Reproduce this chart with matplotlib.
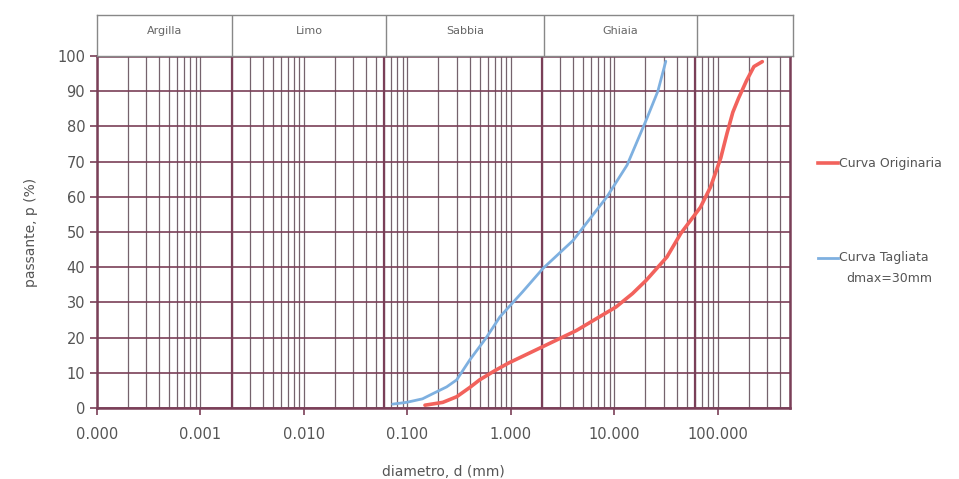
"""
Curva granulometrica: originaria vs tagliata (dmax = 30 mm).
"""
import numpy as np
import matplotlib
matplotlib.use("Agg")
import matplotlib.pyplot as plt
from matplotlib.lines import Line2D

# data
orig_d = [0.148, 0.22, 0.30, 0.40, 0.50, 0.70, 0.94, 1.9, 4.3, 10.4, 15, 20.4, 32.3,
          44, 68, 85, 107, 123, 140, 159, 190, 224, 270]
orig_p = [0.8, 1.6, 3.2, 5.8, 8, 10.6, 12.7, 17, 22, 28.7, 32.5, 36.3, 42.9,
          49.6, 57, 62.7, 71, 78, 84, 88, 93, 97, 98.4]

cut_d = [0.072, 0.098, 0.14, 0.18, 0.24, 0.30, 0.40, 0.58, 0.785, 1.3, 2.04, 4.0,
         8.5, 13.3, 20.5, 26.4, 31.5]
cut_p = [1.1, 1.6, 2.6, 4.2, 6.0, 8, 13.6, 20, 25.9, 33, 39.6, 47.6,
         60, 69, 82, 90, 98.5]

class_names = ["Argilla", "Limo", "Sabbia", "Ghiaia", ""]
class_bounds = [0.0001, 0.002, 0.06, 2, 60, 500]

x_major = [0.0001, 0.001, 0.01, 0.1, 1, 10, 100]
y_major = list(range(0, 101, 10))

maroon = "#7a3f58"
gridc = "#75636d"
textc = "#555555"

plt.rcParams["font.family"] = ["DejaVu Sans"]

fig = plt.figure(figsize=(9.59, 4.79), dpi=100)
ax = fig.add_axes([97 / 959, 1 - 408 / 479, 693 / 959, 352 / 479])
band = fig.add_axes([97 / 959, 1 - 56 / 479, 696 / 959, 41 / 479])

ax.set_xscale("log")
ax.set_xlim(class_bounds[0], class_bounds[-1])
ax.set_ylim(0, 100)

# vertical grid: every minor value of each decade
for dec in x_major:
    for k in range(1, 10):
        v = dec * k
        if v <= class_bounds[-1]:
            ax.axvline(v, color=gridc, lw=0.9, zorder=1)
for b in class_bounds[1:-1]:
    ax.axvline(b, color=maroon, lw=1.6, zorder=1)
for y in y_major:
    ax.axhline(y, color=maroon, lw=1.2, zorder=1)

ax.plot(orig_d, orig_p, color="#f2625c", lw=2.6, zorder=3,
        solid_capstyle="round", solid_joinstyle="round")
ax.plot(cut_d, cut_p, color="#7eb0e0", lw=2.0, zorder=3,
        solid_capstyle="round", solid_joinstyle="round")

ax.set_xticks(x_major)
ax.set_xticklabels(["%.3f" % v for v in x_major])
ax.xaxis.set_minor_locator(matplotlib.ticker.NullLocator())
ax.set_yticks(y_major)
ax.tick_params(axis="both", colors=maroon, labelcolor=textc, labelsize=10.5,
               length=5, width=1.2, direction="out")
ax.tick_params(axis="x", pad=9)
for s in ax.spines.values():
    s.set_color(maroon)
    s.set_linewidth(1.8)

ax.set_xlabel("diametro, d (mm)", color=textc, fontsize=10, labelpad=16)
ax.set_ylabel("passante, p (%)", color=textc, fontsize=10, labelpad=14)

# soil class band on top
band.set_xscale("log")
band.set_xlim(class_bounds[0], class_bounds[-1])
band.set_ylim(0, 1)
band.set_xticks([])
band.set_yticks([])
band.xaxis.set_minor_locator(matplotlib.ticker.NullLocator())
for s in band.spines.values():
    s.set_color("#888888")
    s.set_linewidth(1.0)
for b in class_bounds[1:-1]:
    band.axvline(b, color="#888888", lw=1.0)
for name, lo, hi in zip(class_names, class_bounds[:-1], class_bounds[1:]):
    band.text(np.sqrt(lo * hi), 0.6, name, ha="center", va="center",
              fontsize=8, color="#666666")

# legend drawn at the right
fig.add_artist(Line2D([818 / 959, 838 / 959], [1 - 163 / 479] * 2,
                      color="#f2625c", lw=2.6))
fig.text(839 / 959, 1 - 163 / 479, "Curva Originaria", fontsize=9,
         color=textc, va="center")
fig.add_artist(Line2D([818 / 959, 838 / 959], [1 - 258 / 479] * 2,
                      color="#7eb0e0", lw=2.0))
fig.text(839 / 959, 1 - 258 / 479, "Curva Tagliata", fontsize=9,
         color=textc, va="center")
fig.text(846 / 959, 1 - 279 / 479, "dmax=30mm", fontsize=9,
         color=textc, va="center")

fig.savefig("out.png", dpi=100)
